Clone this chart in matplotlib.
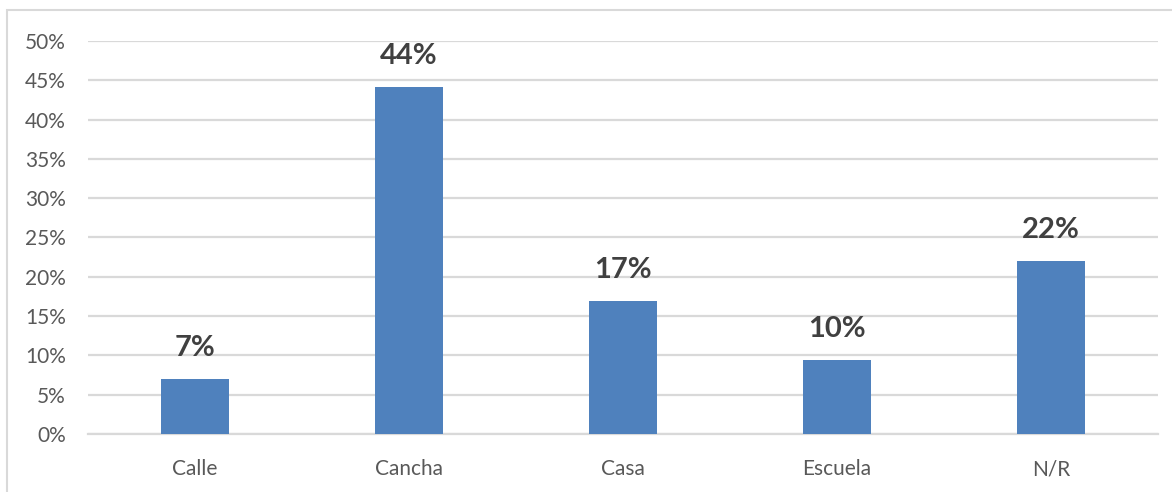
import matplotlib.pyplot as plt
from matplotlib.patches import Rectangle
from matplotlib.ticker import FuncFormatter, MultipleLocator

plt.rcParams['font.family'] = ['Lato', 'DejaVu Sans']

categories = ['Calle', 'Cancha', 'Casa', 'Escuela', 'N/R']
values = [0.070, 0.441, 0.169, 0.094, 0.220]
labels = ['7%', '44%', '17%', '10%', '22%']

bar_color = '#4F81BD'
grid_color = '#D9D9D9'
text_color = '#595959'

fig = plt.figure(figsize=(11.72, 4.92), dpi=100)
ax = fig.add_axes([88 / 1172, 1 - 434 / 492, 1070 / 1172, 393 / 492])

x = range(len(categories))
bars = ax.bar(x, values, width=0.315, color=bar_color, zorder=3)

for rect, lab in zip(bars, labels):
    ax.annotate(lab, (rect.get_x() + rect.get_width() / 2, rect.get_height()),
                xytext=(0, 13), textcoords='offset points',
                ha='center', va='bottom', fontsize=21, fontweight='bold',
                color='#404040')

ax.set_xlim(-0.5, len(categories) - 0.5)
ax.set_ylim(0, 0.5)
ax.yaxis.set_major_locator(MultipleLocator(0.05))
ax.yaxis.set_major_formatter(FuncFormatter(lambda y, _: f'{y:.0%}'))
ax.set_xticks(list(x))
ax.set_xticklabels(categories)

ax.grid(axis='y', color=grid_color, linewidth=1.6, zorder=0)
for s in ['top', 'right', 'left']:
    ax.spines[s].set_visible(False)
ax.spines['bottom'].set_color(grid_color)
ax.spines['bottom'].set_linewidth(1.6)
ax.tick_params(axis='both', length=0, labelsize=15, colors=text_color)
ax.tick_params(axis='x', pad=18)
ax.tick_params(axis='y', pad=16)

# outer chart border
fig.add_artist(Rectangle((7 / 1172, -0.05), 1.1, 1 - 10 / 492 + 0.05,
                         transform=fig.transFigure, fill=False,
                         edgecolor=grid_color, linewidth=1.5))

fig.savefig('out.png', dpi=100)
